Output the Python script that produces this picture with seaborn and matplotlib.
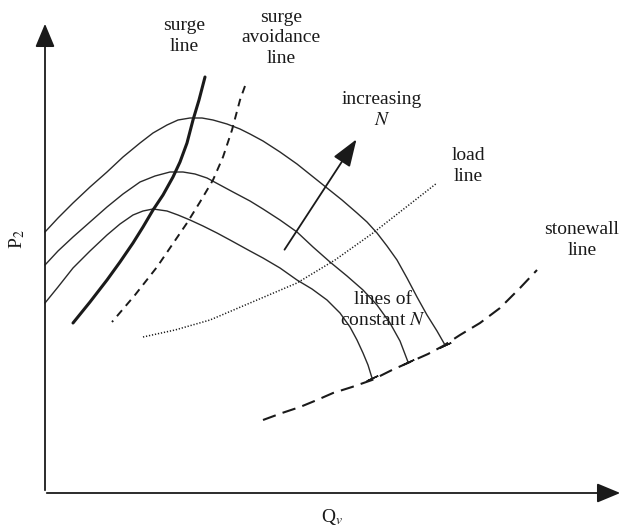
import numpy as np
import pandas as pd
import matplotlib
matplotlib.use("Agg")
import matplotlib.pyplot as plt
import seaborn as sns

# Schematic compressor map, coordinates (x right, y down, in image units)
speed_hi_x = [45, 58, 73, 90, 107, 123, 140, 153, 167, 178, 190, 202, 213, 227, 240, 250, 263, 280,
              297, 312, 327, 342, 357, 367, 377, 387, 397, 407, 417, 427, 437, 445]
speed_hi_y = [232, 218, 203, 187, 172, 157, 143, 133, 125, 120, 118, 118, 120, 124, 129, 134, 141, 152,
              164, 176, 188, 200, 213, 222, 233, 246, 260, 278, 297, 315, 331, 345]
speed_mid_x = [45, 58, 73, 90, 107, 123, 140, 155, 170, 183, 195, 207, 220, 233, 250, 263, 280, 297,
               313, 330, 347, 363, 377, 390, 400, 408]
speed_mid_y = [265, 251, 237, 222, 207, 194, 182, 176, 172, 172, 174, 178, 185, 192, 201, 209, 220, 232,
               247, 262, 276, 290, 305, 323, 341, 362]
speed_lo_x = [45, 58, 73, 90, 107, 120, 133, 143, 153, 167, 178, 190, 203, 217, 230, 250, 263, 280,
              297, 312, 327, 340, 350, 357, 363, 368, 372]
speed_lo_y = [303, 287, 268, 251, 235, 224, 215, 211, 209, 211, 215, 220, 226, 233, 240, 251, 258, 268,
              280, 289, 300, 313, 327, 340, 353, 365, 378]

surge_x = [205, 199, 193, 187, 180, 173, 163, 153, 143, 133, 120, 107, 90, 73]
surge_y = [77, 100, 120, 143, 162, 177, 195, 210, 227, 243, 262, 280, 302, 323]
avoid_x = [245, 240, 232, 223, 213, 200, 187, 172, 157, 135, 112]
avoid_y = [86, 100, 130, 157, 180, 202, 223, 245, 267, 295, 322]
load_x = [143, 175, 210, 250, 297, 335, 373, 405, 437]
load_y = [337, 330, 320, 303, 283, 260, 233, 208, 183]
stone_x = [263, 282, 300, 317, 333, 352, 372, 392, 410, 428, 443, 460, 480, 500, 520, 537]
stone_y = [420, 413, 407, 400, 393, 387, 380, 370, 362, 354, 346, 335, 323, 308, 288, 270]

labels = ["surge\nline", "surge\navoidance\nline", "increasing\n$N$", "load\nline",
          "stonewall\nline", "lines of\nconstant $N$"]
label_x = [184, 281, 382, 468, 582, 383]
label_y = [36, 38, 110, 166, 240, 310]

sns.set_theme(style="white")
plt.rcParams["font.family"] = ["Liberation Serif", "DejaVu Serif"]
plt.rcParams["mathtext.fontset"] = "stix"

fig = plt.figure(figsize=(6.25, 5.29), dpi=100)
ax = fig.add_axes([0, 0, 1, 1])
ax.set_xlim(0, 625)
ax.set_ylim(529, 0)
ax.axis("off")

def curve(xs, ys, **kw):
    df = pd.DataFrame({"x": xs, "y": ys})
    sns.lineplot(data=df, x="x", y="y", sort=False, estimator=None, ax=ax, **kw)

c = "#1a1a1a"
curve(stone_x, stone_y, color=c, lw=1.5, dashes=(6.5, 3.5))
for xs, ys in [(speed_hi_x, speed_hi_y), (speed_mid_x, speed_mid_y), (speed_lo_x, speed_lo_y)]:
    curve(xs, ys, color="#2a2a2a", lw=1.0)
    # small end tick on the stonewall line
    ax.plot([xs[-1]], [ys[-1]], marker=(2, 2, -65), ms=9, mew=1.1, color=c)

curve(surge_x, surge_y, color=c, lw=2.2)
curve(avoid_x, avoid_y, color=c, lw=1.4, dashes=(4, 3))
curve(load_x, load_y, color=c, lw=1.1, dashes=(0.8, 1.2))

arrow_style = "-|>,head_length=1.2,head_width=0.5"
# axes arrows
ax.annotate("", xy=(45, 21), xytext=(45, 493),
            arrowprops=dict(arrowstyle=arrow_style, color=c, lw=1.3))
ax.annotate("", xy=(623, 493), xytext=(44, 493),
            arrowprops=dict(arrowstyle=arrow_style, color=c, lw=1.3))

# increasing N arrow
ax.annotate("", xy=(358, 137), xytext=(283, 252),
            arrowprops=dict(arrowstyle="-|>,head_length=1.4,head_width=0.5", color=c, lw=1.3))

for t, x, y in zip(labels, label_x, label_y):
    ax.text(x, y, t, ha="center", va="center", fontsize=14, color=c, linespacing=1.28)

ax.text(17, 239, "P$_2$", rotation=90, ha="center", va="center", fontsize=14, color=c)
ax.text(332, 517, "Q$_v$", ha="center", va="center", fontsize=14, color=c)

fig.savefig("out.png", dpi=100)
